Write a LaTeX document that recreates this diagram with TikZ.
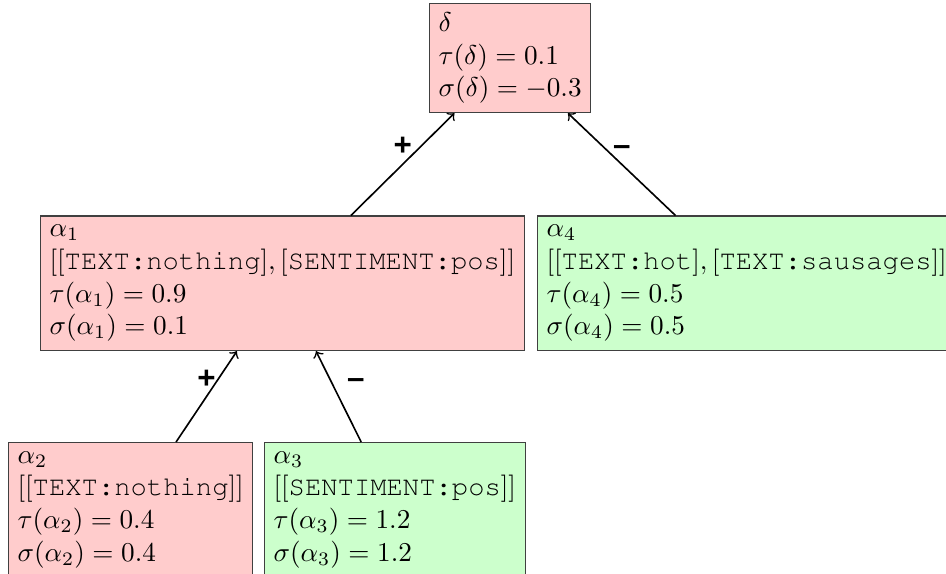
\documentclass[tikz,border=0pt]{standalone}
\usepackage{amsmath}
\usepackage{amssymb}
\usepackage[T1]{fontenc}
\usepackage{fontspec}
\newfontfamily\signfont{Liberation Sans}
\newcommand{\cour}[1]{\text{\fontencoding{T1}\fontfamily{pcr}\selectfont #1}}
\usepackage{tikz}

\begin{document}
\begin{tikzpicture}[
     x = 0.3676pt, y = -0.3676pt, % pixel grid of the reference
     > = to, % arrow head style
     auto,
     semithick % line style
 ]

 \tikzstyle{posbox} = [
     draw = black!75,
     thin,
     fill = red!20,
     align = left,
     anchor = north west
 ]
 \tikzstyle{negbox} = [
     draw = black!75,
     thin,
     fill = green!20,
     align = left,
     anchor = north west
 ]
 \tikzstyle{sign} = [
     font = \signfont\bfseries\fontsize{11.5}{13}\selectfont,
     inner sep = 2.8pt
 ]

 \useasboundingbox (0,0) rectangle (946,574);

 \node[posbox] (delta) at (429,3) {$\delta$\\ $\tau(\delta) = 0.1$\\ $\sigma(\delta) = -0.3$};
 \node[posbox] (a1) at (40,215.5) {$\alpha_1$\\ $[[\cour{TEXT:nothing}], [\cour{SENTIMENT:pos}]]$\\ $\tau(\alpha_1) = 0.9$\\ $\sigma(\alpha_1) = 0.1$};
 \node[negbox] (a4) at (537,215.5) {$\alpha_4$\\ $[[\cour{TEXT:hot}], [\cour{TEXT:sausages}]]$\\ $\tau(\alpha_4) = 0.5$\\ $\sigma(\alpha_4) = 0.5$};
 \node[posbox] (a2) at (8,442) {$\alpha_2$\\ $[[\cour{TEXT:nothing}]]$\\ $\tau(\alpha_2) = 0.4$\\ $\sigma(\alpha_2) = 0.4$};
 \node[negbox] (a3) at (264,442) {$\alpha_3$\\ $[[\cour{SENTIMENT:pos}]]$\\ $\tau(\alpha_3) = 1.2$\\ $\sigma(\alpha_3) = 1.2$};

 \path[->] (a1) edge node[sign, above] {+} (delta);
 \path[->] (a4) edge node[sign, above] {–} (delta);
 \path[->] (a2) edge node[sign, above] {+} (a1);
 \path[->] (a3) edge node[sign, above right] {–} (a1);
\end{tikzpicture}
\end{document}
